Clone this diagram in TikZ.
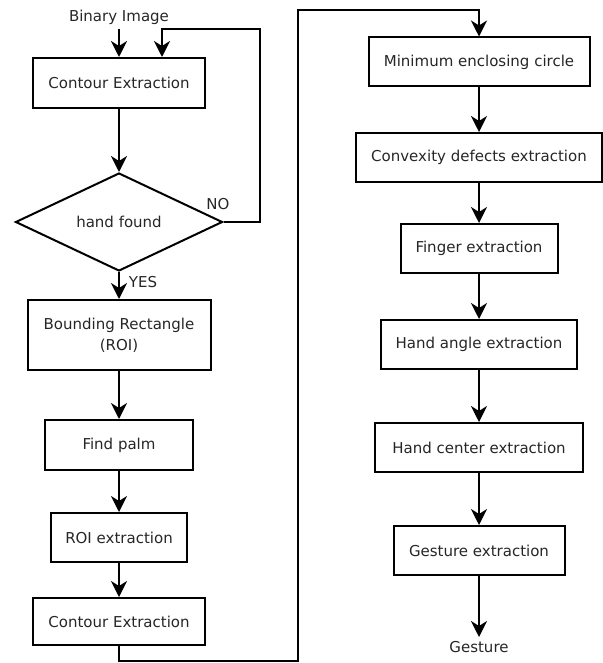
\documentclass[tikz,border=0pt]{standalone}
\usepackage{fontspec}
\setmainfont{DejaVu Sans}
\usetikzlibrary{shapes.geometric,arrows.meta}

\begin{document}
\begin{tikzpicture}[x=1pt, y=-1pt, line width=2pt,
	font=\fontsize{15}{21}\selectfont, text=black!85,
	box/.style={draw, rectangle, align=center, inner sep=0pt},
	decision/.style={draw, diamond, aspect=2, inner sep=0pt, minimum width=207pt, minimum height=98pt},
	arr/.style={-{Stealth[length=16pt, width=16pt, inset=5pt]}}]
	\useasboundingbox (0,0) rectangle (602,663);
	% left column
	\node (binary) at (119,17) {Binary Image};
	\node[box, minimum width=172pt, minimum height=50pt] (contourA) at (119,83) {Contour Extraction};
	\node[decision] (hand) at (119,222) {hand found};
	\node[box, minimum width=183pt, minimum height=70pt] (bounding) at (119,335) {Bounding Rectangle\\(ROI)};
	\node[box, minimum width=148pt, minimum height=50pt] (palm) at (119,445) {Find palm};
	\node[box, minimum width=136pt, minimum height=49pt] (roi) at (119,537.5) {ROI extraction};
	\node[box, minimum width=172pt, minimum height=47pt] (contourB) at (119,621.5) {Contour Extraction};
	\node at (218,204) {NO};
	\node at (143,282) {YES};
	% right column
	\node[box, minimum width=221pt, minimum height=49pt] (circle) at (479,62) {Minimum enclosing circle};
	\node[box, minimum width=246pt, minimum height=49pt] (convex) at (479,157.5) {Convexity defects extraction};
	\node[box, minimum width=157pt, minimum height=49pt] (finger) at (479,248.5) {Finger extraction};
	\node[box, minimum width=196pt, minimum height=49pt] (angle) at (479,344.5) {Hand angle extraction};
	\node[box, minimum width=208pt, minimum height=49pt] (center) at (479,447.5) {Hand center extraction};
	\node[box, minimum width=171pt, minimum height=49pt] (gestbox) at (479,550.5) {Gesture extraction};
	\node (gesture) at (479,647) {Gesture};
	\coordinate (loop) at (260,29);
	\coordinate (low) at (298,661);
	\coordinate (high) at (298,10);

	\draw[arr] (binary) -- (contourA);
	\draw[arr] (contourA) -- (hand);
	\draw[arr] (hand.east) -| (loop) -| ([xshift=43pt]contourA.north);
	\draw[arr] (hand) -- (bounding);
	\draw[arr] (bounding) -- (palm);
	\draw[arr] (palm) -- (roi);
	\draw[arr] (roi) -- (contourB);
	\draw[arr] (contourB.south) |- (low) -- (high) -| (circle.north);
	\draw[arr] (circle) -- (convex);
	\draw[arr] (convex) -- (finger);
	\draw[arr] (finger) -- (angle);
	\draw[arr] (angle) -- (center);
	\draw[arr] (center) -- (gestbox);
	\draw[arr] (gestbox) -- (gesture);
\end{tikzpicture}
\end{document}
